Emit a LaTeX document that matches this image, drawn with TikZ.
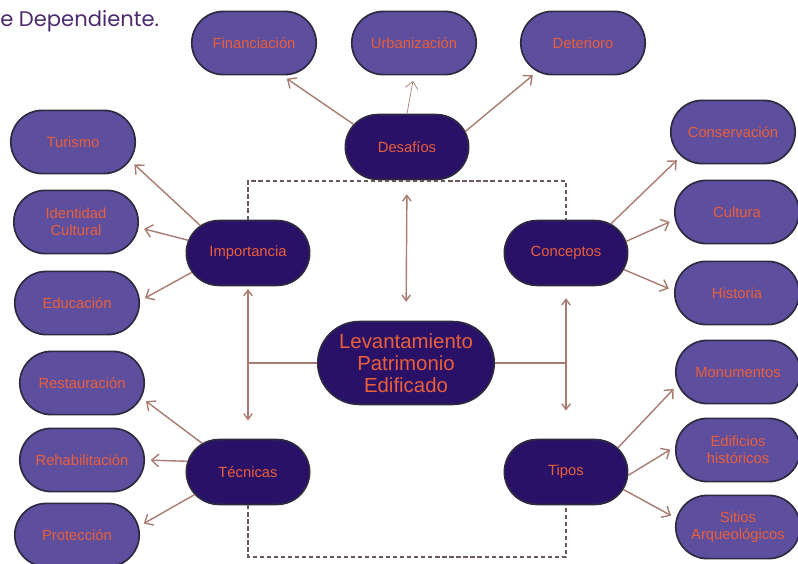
\documentclass[tikz,border=0pt]{standalone}
\usepackage{fontspec}
\setmainfont{Liberation Sans}
\newfontfamily\titulofont{Poppins}
\usetikzlibrary{shapes.misc,arrows.meta}

\definecolor{claro}{HTML}{5D4E9E}
\definecolor{oscuro}{HTML}{2A1168}
\definecolor{borde}{HTML}{2E2A40}
\definecolor{texto}{HTML}{EA5E38}
\definecolor{linea}{HTML}{A87C72}
\definecolor{punto}{HTML}{6B5858}
\definecolor{titulo}{HTML}{4B2A6E}

\tikzset{
    base/.style={rounded rectangle, draw=borde, line width=1.2pt, text=texto,
        font=\fontsize{10.5}{12}\selectfont, align=center, inner sep=2pt},
    hoja/.style={base, fill=claro, minimum width=3.25cm, minimum height=1.58cm},
    rama/.style={base, fill=oscuro, minimum width=3.22cm, minimum height=1.62cm},
    flecha/.style={draw=linea, line width=1pt, -{Straight Barb[length=5pt,width=9pt]}, shorten >=4pt},
    troncal/.style={draw=linea, line width=1pt},
    punta/.style={{Straight Barb[length=4pt,width=6pt]}-{Straight Barb[length=4pt,width=6pt]}},
    punteada/.style={draw=punto, line width=1pt, densely dashed}
}

\begin{document}
\begin{tikzpicture}[x=0.025cm, y=-0.025cm]
\useasboundingbox (0,0) rectangle (798,564);

% titulo cortado
\node[anchor=west, inner sep=0pt, text=titulo, font=\titulofont\fontsize{15}{17}\selectfont] (tit) at (0,21) {e Dependiente.};

% centro
\node[base, fill=oscuro, minimum width=4.55cm, minimum height=2.07cm,
      font=\fontsize{14.5}{15.5}\selectfont] (cen) at (406,363) {Levantamiento\\Patrimonio\\Edificado};

% ramas
\node[rama] (des) at (407,147) {Desafíos};
\node[rama] (imp) at (248,253) {Importancia};
\node[rama] (con) at (566,253) {Conceptos};
\node[rama] (tec) at (248,472) {Técnicas};
\node[rama] (tip) at (566,472) {Tipos};

% hojas de arriba
\node[hoja] (fin) at (254,43) {Financiación};
\node[hoja] (urb) at (414,43) {Urbanización};
\node[hoja] (det) at (583,43) {Deterioro};

% hojas izquierda
\node[hoja] (tur) at (73,142) {Turismo};
\node[hoja] (ide) at (76,222) {Identidad\\Cultural};
\node[hoja] (edu) at (77,303) {Educación};
\node[hoja] (res) at (82,383) {Restauración};
\node[hoja] (reh) at (82,460) {Rehabilitación};
\node[hoja] (pro) at (77,535) {Protección};

% hojas derecha
\node[hoja] (csv) at (733,132) {Conservación};
\node[hoja] (cul) at (737,212) {Cultura};
\node[hoja] (his) at (737,293) {Historia};
\node[hoja] (mon) at (738,372) {Monumentos};
\node[hoja] (edi) at (738,450) {Edificios\\históricos};
\node[hoja] (sit) at (738,527) {Sitios\\Arqueológicos};

% flechas a las hojas
\draw[flecha] (des.157) -- (fin.-49);
\draw[flecha, line width=0.5pt] (des.north) -- (urb.south);
\draw[flecha] (des.15) -- (det.212);

\draw[flecha] (imp.150) -- (tur.-18);
\draw[flecha] (imp.168) -- (ide.-5);
\draw[flecha] (imp.199) -- (edu.2);

\draw[flecha] (con.33) -- (csv.205);
\draw[flecha] (con.11) -- (cul.187);
\draw[flecha] (con.-16) -- (his.178);

\draw[flecha] (tec.148) -- (res.-14);
\draw[flecha] (tec.170) -- (reh.0);
\draw[flecha] (tec.203) -- (pro.8);

\draw[flecha] (tip.25) -- (mon.192);
\draw[flecha] (tip.-3) -- (edi.177);
\draw[flecha] (tip.-17) -- (sit.172);

% lineas troncales
\draw[troncal, punta, shorten <=10pt, shorten >=13.5pt] (des.south) -- (cen.north);
\draw[troncal, punta, shorten <=2pt, shorten >=13pt] (imp.south) -- (tec.north);
\draw[troncal, punta, shorten <=8.5pt, shorten >=20pt] (con.south) -- (tip.north);
\draw[troncal] (cen.west) -- (cen.west -| imp.south);
\draw[troncal] (cen.east) -- (cen.east -| con.south);

% marco punteado
\draw[punteada] (imp.north) -- (imp.north |- 0,181) -| (con.north);
\draw[punteada] (tec.south) -- (tec.south |- 0,557) -| (tip.south);

\end{tikzpicture}
\end{document}
